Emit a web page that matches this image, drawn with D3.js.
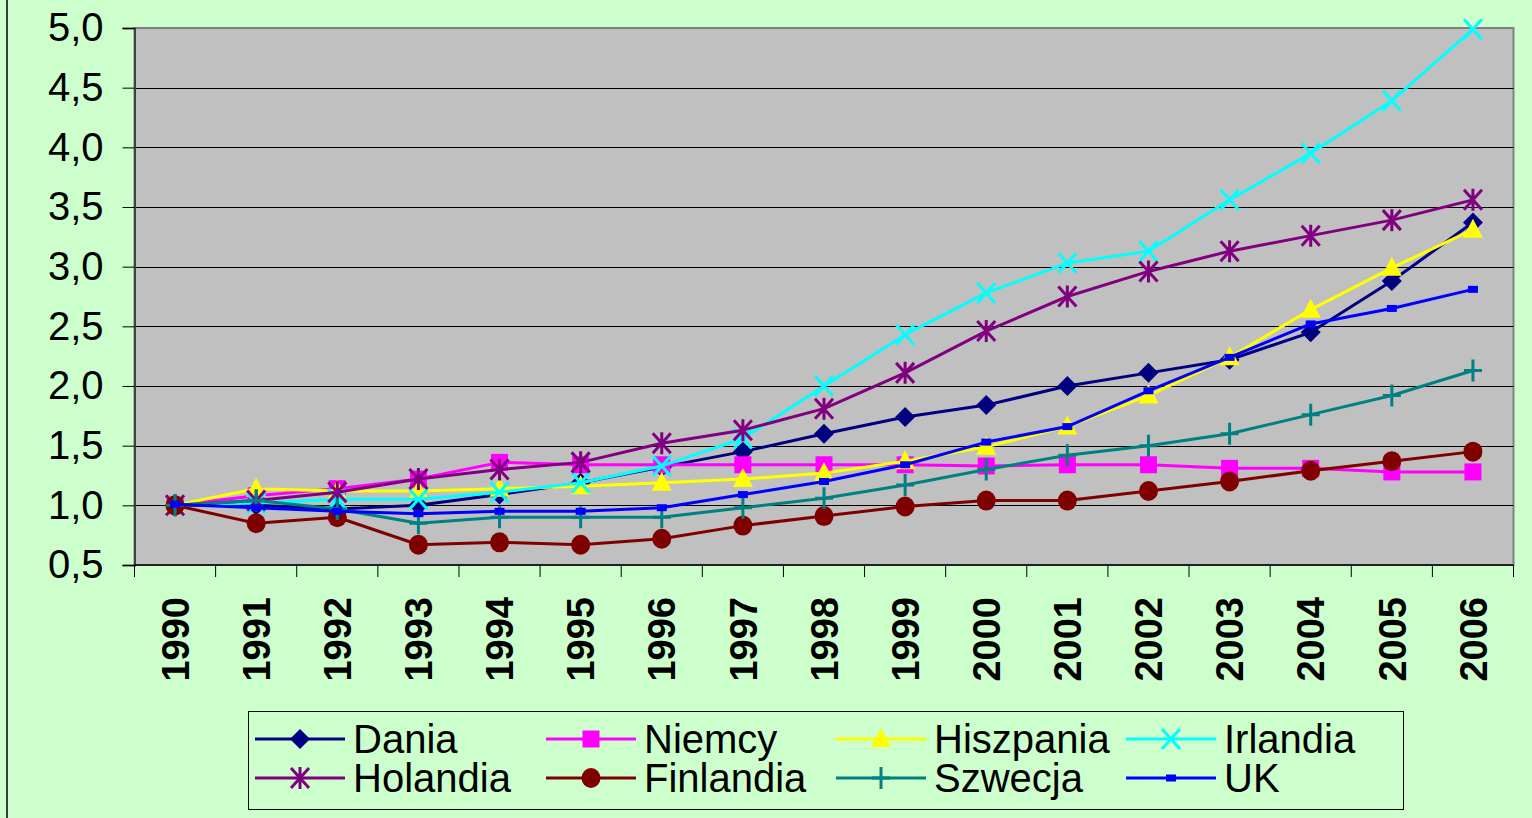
<!DOCTYPE html>
<html>
<head>
<meta charset="utf-8">
<script src="https://cdn.jsdelivr.net/npm/d3@7"></script>
<style>
  body { margin: 0; padding: 0; background: #CCFFCC; }
  svg { display: block; }
</style>
</head>
<body>
<script>
// ---------------- data ----------------
var years = ["1990","1991","1992","1993","1994","1995","1996","1997","1998","1999","2000","2001","2002","2003","2004","2005","2006"];
var yTicks = [0.5, 1.0, 1.5, 2.0, 2.5, 3.0, 3.5, 4.0, 4.5, 5.0];

var dania     = [1.00, 1.00, 0.97, 1.00, 1.09, 1.19, 1.32, 1.45, 1.60, 1.74, 1.84, 2.00, 2.11, 2.22, 2.45, 2.88, 3.37];
var niemcy    = [1.00, 1.08, 1.14, 1.22, 1.36, 1.34, 1.34, 1.34, 1.34, 1.34, 1.33, 1.34, 1.34, 1.31, 1.31, 1.28, 1.28];
var hiszpania = [1.00, 1.14, 1.12, 1.12, 1.14, 1.16, 1.19, 1.22, 1.27, 1.37, 1.49, 1.66, 1.92, 2.24, 2.64, 2.99, 3.31];
var irlandia  = [1.00, 1.02, 1.05, 1.05, 1.11, 1.19, 1.33, 1.56, 2.00, 2.43, 2.78, 3.03, 3.13, 3.56, 3.95, 4.39, 4.99];
var holandia  = [1.00, 1.04, 1.11, 1.22, 1.30, 1.36, 1.52, 1.63, 1.81, 2.11, 2.46, 2.75, 2.96, 3.13, 3.26, 3.39, 3.56];
var finlandia = [1.00, 0.85, 0.90, 0.67, 0.69, 0.67, 0.72, 0.83, 0.91, 0.99, 1.04, 1.04, 1.12, 1.20, 1.29, 1.37, 1.45];
var szwecja   = [1.00, 1.04, 0.97, 0.85, 0.90, 0.90, 0.90, 0.98, 1.06, 1.17, 1.30, 1.42, 1.50, 1.60, 1.76, 1.92, 2.13];
var uk        = [1.01, 0.98, 0.95, 0.93, 0.95, 0.95, 0.98, 1.09, 1.20, 1.34, 1.53, 1.66, 1.96, 2.24, 2.52, 2.65, 2.81];

var seriesNames = ["Dania","Niemcy","Hiszpania","Irlandia","Holandia","Finlandia","Szwecja","UK"];
var seriesValues = [dania, niemcy, hiszpania, irlandia, holandia, finlandia, szwecja, uk];
var seriesColors = ["#000080","#FF00FF","#FFFF00","#00FFFF","#800080","#800000","#008080","#0000FF"];
var seriesMarkers = ["diamond","square","triangle","x","asterisk","circle","plus","dash"];

// ---------------- layout ----------------
var W = 1532, H = 818;
var plot = {left: 134.5, right: 1513.5, top: 28, bottom: 565};

var svg = d3.select("body").append("svg")
  .attr("width", W)
  .attr("height", H);

svg.append("rect").attr("width", W).attr("height", H).attr("fill", "#CCFFCC");
// outer frame line on the left
svg.append("line").attr("x1", 7).attr("x2", 7).attr("y1", 0).attr("y2", H)
  .attr("stroke", "#000").attr("stroke-width", 1.5);

var x = d3.scaleBand().domain(years).range([plot.left, plot.right]);
var y = d3.scaleLinear().domain([0.5, 5.0]).range([plot.bottom, plot.top]);
var cx = function(i) { return x(years[i]) + x.bandwidth() / 2; };

// plot area
svg.append("rect")
  .attr("x", plot.left).attr("y", plot.top)
  .attr("width", plot.right - plot.left).attr("height", plot.bottom - plot.top)
  .attr("fill", "#C0C0C0")
  .attr("stroke", "#808080").attr("stroke-width", 2);

// gridlines
svg.append("g").selectAll("line").data(yTicks.filter(function(d){ return d > 0.5 && d < 5.0; }))
  .join("line")
  .attr("x1", plot.left).attr("x2", plot.right)
  .attr("y1", function(d){ return Math.round(y(d)) + 0.5; })
  .attr("y2", function(d){ return Math.round(y(d)) + 0.5; })
  .attr("stroke", "#000").attr("stroke-width", 1);

// y axis
var yAxis = d3.axisLeft(y)
  .tickValues(yTicks)
  .tickSize(12)
  .tickPadding(19)
  .tickFormat(function(d){ return d3.format(".1f")(d).replace(".", ","); });
var gy = svg.append("g").attr("transform", "translate(" + plot.left + ",0)").call(yAxis);
gy.select(".domain").attr("stroke", "#404040").attr("stroke-width", 2);
gy.selectAll(".tick line").attr("stroke", "#000");
gy.selectAll(".tick text")
  .attr("font-family", "Liberation Sans, Arial, sans-serif")
  .attr("font-size", 40)
  .attr("fill", "#000");

// x axis (bottom line + ticks at category boundaries)
svg.append("line")
  .attr("x1", plot.left).attr("x2", plot.right)
  .attr("y1", plot.bottom).attr("y2", plot.bottom)
  .attr("stroke", "#000").attr("stroke-width", 1.5);
var boundaries = years.map(function(d){ return x(d); }).concat([plot.right]);
svg.append("g").selectAll("line").data(boundaries).join("line")
  .attr("x1", function(d){ return d; }).attr("x2", function(d){ return d; })
  .attr("y1", plot.bottom).attr("y2", plot.bottom + 12)
  .attr("stroke", "#000").attr("stroke-width", 1);

svg.append("g").selectAll("text").data(years).join("text")
  .attr("transform", function(d){ return "translate(" + (x(d) + x.bandwidth()/2) + ",597) rotate(-90)"; })
  .attr("text-anchor", "end")
  .attr("dy", "0.36em")
  .attr("font-family", "Liberation Sans, Arial, sans-serif")
  .attr("font-weight", "bold")
  .attr("font-size", 38)
  .attr("fill", "#000")
  .text(function(d){ return d; });

// ---------------- markers ----------------
function drawMarker(g, type, color, px, py) {
  if (type === "diamond") {
    g.append("path").attr("d", "M" + px + "," + (py-10) + "L" + (px+10) + "," + py + "L" + px + "," + (py+10) + "L" + (px-10) + "," + py + "Z")
      .attr("fill", color);
  } else if (type === "square") {
    g.append("rect").attr("x", px-8.5).attr("y", py-8.5).attr("width", 17).attr("height", 17).attr("fill", color);
  } else if (type === "triangle") {
    g.append("path").attr("d", "M" + px + "," + (py-11) + "L" + (px+10) + "," + (py+8) + "L" + (px-10) + "," + (py+8) + "Z")
      .attr("fill", color);
  } else if (type === "x") {
    g.append("path").attr("d", "M" + (px-9) + "," + (py-10) + "L" + (px+9) + "," + (py+10) + "M" + (px+9) + "," + (py-10) + "L" + (px-9) + "," + (py+10))
      .attr("stroke", color).attr("stroke-width", 3).attr("fill", "none");
  } else if (type === "asterisk") {
    g.append("path").attr("d", "M" + (px-9) + "," + (py-10) + "L" + (px+9) + "," + (py+10) + "M" + (px+9) + "," + (py-10) + "L" + (px-9) + "," + (py+10) + "M" + px + "," + (py-11) + "L" + px + "," + (py+11))
      .attr("stroke", color).attr("stroke-width", 3).attr("fill", "none");
  } else if (type === "circle") {
    g.append("ellipse").attr("cx", px).attr("cy", py).attr("rx", 9.5).attr("ry", 10).attr("fill", color);
  } else if (type === "plus") {
    g.append("path").attr("d", "M" + px + "," + (py-11) + "L" + px + "," + (py+11) + "M" + (px-9) + "," + py + "L" + (px+9) + "," + py)
      .attr("stroke", color).attr("stroke-width", 3).attr("fill", "none");
  } else if (type === "dash") {
    g.append("rect").attr("x", px-5).attr("y", py-3.5).attr("width", 10).attr("height", 7).attr("fill", color);
  }
}

var line = d3.line()
  .x(function(d, i){ return cx(i); })
  .y(function(d){ return y(d); });

seriesValues.forEach(function(vals, s) {
  var g = svg.append("g");
  g.append("path").datum(vals)
    .attr("d", line)
    .attr("fill", "none")
    .attr("stroke", seriesColors[s])
    .attr("stroke-width", 3)
    .attr("stroke-linejoin", "round");
  vals.forEach(function(v, i) {
    drawMarker(g, seriesMarkers[s], seriesColors[s], cx(i), y(v));
  });
});

// ---------------- legend ----------------
svg.append("rect")
  .attr("x", 248.5).attr("y", 711.5).attr("width", 1155).attr("height", 98)
  .attr("fill", "#CCFFCC").attr("stroke", "#000").attr("stroke-width", 1);

var legendCols = [255, 546, 836, 1126];
var legendRows = [739, 778];
seriesNames.forEach(function(name, s) {
  var lx = legendCols[s % 4], ly = legendRows[Math.floor(s / 4)];
  var g = svg.append("g");
  g.append("line").attr("x1", lx).attr("x2", lx + 90).attr("y1", ly).attr("y2", ly)
    .attr("stroke", seriesColors[s]).attr("stroke-width", 3);
  drawMarker(g, seriesMarkers[s], seriesColors[s], lx + 45, ly);
  g.append("text")
    .attr("x", lx + 98).attr("y", ly)
    .attr("dy", "0.36em")
    .attr("font-family", "Liberation Sans, Arial, sans-serif")
    .attr("font-size", 40)
    .attr("fill", "#000")
    .text(name);
});
</script>
</body>
</html>
